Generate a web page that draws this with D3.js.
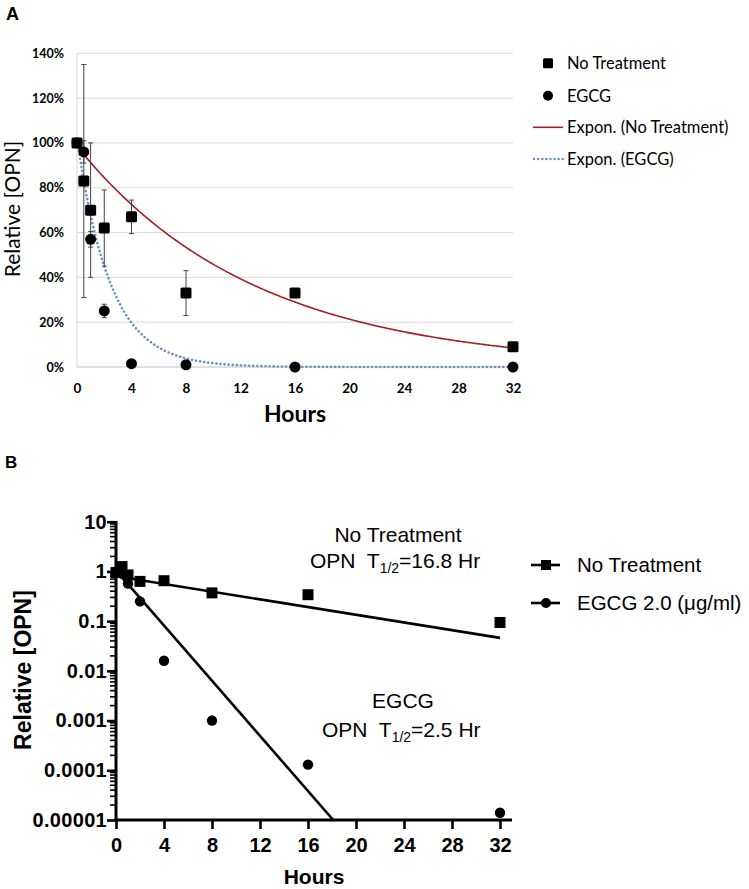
<!DOCTYPE html>
<html>
<head>
<meta charset="utf-8">
<script src="https://cdn.jsdelivr.net/npm/d3@7"></script>
<style>
  html, body { margin: 0; padding: 0; background: #fff; }
  svg { display: block; }
</style>
</head>
<body>
<svg id="chart" width="749" height="889"></svg>
<script>
// ---------- DATA ----------
// Panel A (linear %, Excel style)
const hoursA = [0, 0.5, 1, 2, 4, 8, 16, 32];
const noTreatA = [100, 83, 70, 62, 67, 33, 33, 9];
const noTreatErrA = [0, 52, 30, 17, 7.5, 10, 0, 0];
const egcgA = [100, 96, 57, 25, 1.5, 1, 0, 0];
const egcgErrA = [0, 5, 3.5, 3, 0, 0, 0, 0];
const yTicksA = [0, 20, 40, 60, 80, 100, 120, 140];
const xTicksA = [0, 4, 8, 12, 16, 20, 24, 28, 32];
// Exponential trendline parameters (y = a * exp(-b x))
const expNoTreat = { a: 98.5, b: 0.0765 };
const expEGCG = { a: 102, b: 0.41 };
const legendA = ["No Treatment", "EGCG", "Expon. (No Treatment)", "Expon. (EGCG)"];

// Panel B (log scale, Prism style)
const hoursB = [0, 0.5, 1, 2, 4, 8, 16, 32];
const noTreatB = [0.95, 1.25, 0.85, 0.63, 0.65, 0.37, 0.34, 0.094];
const egcgB = [1.0, 0.9, 0.57, 0.25, 0.016, 0.001, 0.00013, 0.000014];
const yTicksB = [10, 1, 0.1, 0.01, 0.001, 0.0001, 0.00001];
const yTickLabelsB = ["10", "1", "0.1", "0.01", "0.001", "0.0001", "0.00001"];
const xTicksB = [0, 4, 8, 12, 16, 20, 24, 28, 32];
// Fitted regression lines: [x, y] end points
const fitNoTreatB = [[0, 0.8], [32, 0.046]];
const fitEGCGB = [[0, 1.05], [18.1, 0.00001]];
const legendB = ["No Treatment", "EGCG 2.0 (\u03bcg/ml)"];

// ---------- DRAW ----------
const svg = d3.select("#chart");
const fontA = "Lato, 'Open Sans', sans-serif";
const fontB = "'Liberation Sans', Arial, sans-serif";

// ===== Panel A =====
svg.append("text").attr("x", 6).attr("y", 20).text("A")
  .attr("font-family", fontB).attr("font-weight", "bold").attr("font-size", 18);

const xA = d3.scaleLinear().domain([0, 32]).range([77, 513]);
const yA = d3.scaleLinear().domain([0, 140]).range([367, 53.3]);
const gA = svg.append("g");

// gridlines
gA.append("g").selectAll("line").data(yTicksA.filter(d => d > 0)).join("line")
  .attr("x1", xA(0)).attr("x2", xA(32)).attr("y1", d => yA(d)).attr("y2", d => yA(d))
  .attr("stroke", "#d9d9d9").attr("stroke-width", 1);
// axes lines
gA.append("line").attr("x1", xA(0)).attr("x2", xA(0)).attr("y1", yA(0)).attr("y2", yA(140))
  .attr("stroke", "#d9d9d9").attr("stroke-width", 1);
gA.append("line").attr("x1", xA(0)).attr("x2", xA(32)).attr("y1", yA(0)).attr("y2", yA(0))
  .attr("stroke", "#bfbfbf").attr("stroke-width", 1);

// y tick labels
const axYA = d3.axisLeft(yA).tickValues(yTicksA).tickSize(0).tickPadding(0).tickFormat(d => d + "%");
const gyA = gA.append("g").attr("transform", "translate(64,0)").call(axYA);
gyA.select(".domain").remove();
gyA.selectAll("text").attr("font-family", fontA).attr("font-weight", "bold").attr("font-size", 12.5).attr("fill", "#000");

// x tick labels
const axXA = d3.axisBottom(xA).tickValues(xTicksA).tickSize(0).tickPadding(0);
const gxA = gA.append("g").attr("transform", "translate(0,383)").call(axXA);
gxA.select(".domain").remove();
gxA.selectAll("text").attr("font-family", fontA).attr("font-weight", "bold").attr("font-size", 13.5).attr("fill", "#000");

// axis titles
svg.append("text").attr("x", 295).attr("y", 422).attr("text-anchor", "middle")
  .attr("font-family", fontA).attr("font-weight", "bold").attr("font-size", 23).text("Hours");
svg.append("text").attr("transform", "translate(20,209) rotate(-90)").attr("text-anchor", "middle")
  .attr("font-family", fontA).attr("font-size", 21).text("Relative [OPN]");

// trendlines
const curveX = d3.range(0, 32.001, 0.1);
const lineA = d3.line().x(d => xA(d[0])).y(d => yA(d[1]));
gA.append("path").datum(curveX.map(x => [x, expNoTreat.a * Math.exp(-expNoTreat.b * x)]))
  .attr("d", lineA).attr("fill", "none").attr("stroke", "#a31f24").attr("stroke-width", 1.6);
gA.append("path").datum(curveX.map(x => [x, expEGCG.a * Math.exp(-expEGCG.b * x)]))
  .attr("d", lineA).attr("fill", "none").attr("stroke", "#6f8fc9").attr("stroke-width", 2.6)
  .attr("stroke-dasharray", "0.1,4").attr("stroke-linecap", "round");

// error bars
function errBars(vals, errs) {
  const data = hoursA.map((h, i) => ({ h, v: vals[i], e: errs[i] })).filter(d => d.e > 0);
  const g = gA.append("g").attr("stroke", "#444").attr("stroke-width", 1);
  g.selectAll("line.v").data(data).join("line").attr("class", "v")
    .attr("x1", d => xA(d.h)).attr("x2", d => xA(d.h))
    .attr("y1", d => yA(d.v - d.e)).attr("y2", d => yA(d.v + d.e));
  g.selectAll("line.t").data(data).join("line").attr("class", "t")
    .attr("x1", d => xA(d.h) - 2.5).attr("x2", d => xA(d.h) + 2.5)
    .attr("y1", d => yA(d.v + d.e)).attr("y2", d => yA(d.v + d.e));
  g.selectAll("line.b").data(data).join("line").attr("class", "b")
    .attr("x1", d => xA(d.h) - 2.5).attr("x2", d => xA(d.h) + 2.5)
    .attr("y1", d => yA(d.v - d.e)).attr("y2", d => yA(d.v - d.e));
}
errBars(noTreatA, noTreatErrA);
errBars(egcgA, egcgErrA);

// markers
gA.append("g").selectAll("rect").data(hoursA.map((h, i) => [h, noTreatA[i]])).join("rect")
  .attr("x", d => xA(d[0]) - 5.5).attr("y", d => yA(d[1]) - 5.5)
  .attr("width", 11).attr("height", 11).attr("rx", 1.5).attr("fill", "#000");
gA.append("g").selectAll("circle").data(hoursA.map((h, i) => [h, egcgA[i]])).join("circle")
  .attr("cx", d => xA(d[0])).attr("cy", d => yA(d[1])).attr("r", 5.5).attr("fill", "#000");

// legend A
const legA = svg.append("g").attr("font-family", fontA).attr("font-size", 16.5);
legA.append("rect").attr("x", 543).attr("y", 58.3).attr("width", 10).attr("height", 10).attr("rx", 1.5).attr("fill", "#000");
legA.append("circle").attr("cx", 548).attr("cy", 95.7).attr("r", 5).attr("fill", "#000");
legA.append("line").attr("x1", 533).attr("x2", 563).attr("y1", 127.3).attr("y2", 127.3)
  .attr("stroke", "#a31f24").attr("stroke-width", 1.6);
legA.append("line").attr("x1", 534).attr("x2", 563).attr("y1", 159).attr("y2", 159)
  .attr("stroke", "#6f8fc9").attr("stroke-width", 2.4).attr("stroke-dasharray", "0.1,4").attr("stroke-linecap", "round");
const legAY = [69, 101.5, 133, 165];
legA.selectAll("text").data(legendA).join("text")
  .attr("x", 567).attr("y", (d, i) => legAY[i]).text(d => d);

// ===== Panel B =====
svg.append("text").attr("x", 5).attr("y", 468).text("B")
  .attr("font-family", fontB).attr("font-weight", "bold").attr("font-size", 17);

const xB = d3.scaleLinear().domain([0, 32]).range([116, 500]);
const yB = d3.scaleLog().domain([0.00001, 10]).range([820, 521.7]);
const gB = svg.append("g");

// minor ticks
const minorB = [];
for (let e = -5; e < 1; e++) for (let m = 2; m <= 9; m++) minorB.push(m * Math.pow(10, e));
gB.append("g").selectAll("line").data(minorB).join("line")
  .attr("x1", 110).attr("x2", 116).attr("y1", d => yB(d)).attr("y2", d => yB(d))
  .attr("stroke", "#000").attr("stroke-width", 1.6);

const axYB = d3.axisLeft(yB).tickValues(yTicksB).tickSize(9).tickPadding(0)
  .tickFormat((d, i) => yTickLabelsB[i]);
const gyB = gB.append("g").attr("transform", "translate(116,0)").call(axYB);
gyB.select(".domain").remove();
gyB.selectAll(".tick line").attr("stroke-width", 2.6);
gyB.selectAll("text").attr("font-family", fontB).attr("font-weight", "bold").attr("font-size", 20)
  .attr("fill", "#000").attr("letter-spacing", "0.3px");
gB.append("line").attr("x1", 116).attr("x2", 116).attr("y1", 521).attr("y2", 821.5)
  .attr("stroke", "#000").attr("stroke-width", 3);

const axXB = d3.axisBottom(xB).tickValues(xTicksB).tickSize(9).tickPadding(9);
const gxB = gB.append("g").attr("transform", "translate(0,820)").call(axXB);
gxB.select(".domain").remove();
gxB.selectAll(".tick line").attr("stroke-width", 2.6);
gxB.selectAll("text").attr("font-family", fontB).attr("font-weight", "bold").attr("font-size", 20).attr("fill", "#000");
gB.append("line").attr("x1", 114.5).attr("x2", 512).attr("y1", 820).attr("y2", 820)
  .attr("stroke", "#000").attr("stroke-width", 3);

svg.append("text").attr("x", 314).attr("y", 884).attr("text-anchor", "middle")
  .attr("font-family", fontB).attr("font-weight", "bold").attr("font-size", 21).text("Hours");
svg.append("text").attr("transform", "translate(31,670) rotate(-90)").attr("text-anchor", "middle")
  .attr("font-family", fontB).attr("font-weight", "bold").attr("font-size", 23).text("Relative [OPN]");

// fit lines
const lineB = d3.line().x(d => xB(d[0])).y(d => yB(d[1]));
gB.append("path").datum(fitNoTreatB).attr("d", lineB).attr("fill", "none").attr("stroke", "#000").attr("stroke-width", 2.6);
gB.append("path").datum(fitEGCGB).attr("d", lineB).attr("fill", "none").attr("stroke", "#000").attr("stroke-width", 2.6);

// markers
gB.append("g").selectAll("rect").data(hoursB.map((h, i) => [h, noTreatB[i]])).join("rect")
  .attr("x", d => xB(d[0]) - 5.5).attr("y", d => yB(d[1]) - 5.5)
  .attr("width", 11).attr("height", 11).attr("fill", "#000");
gB.append("g").selectAll("circle").data(hoursB.map((h, i) => [h, egcgB[i]])).join("circle")
  .attr("cx", d => xB(d[0])).attr("cy", d => yB(d[1])).attr("r", 5.2).attr("fill", "#000");

// annotations
const ann = svg.append("g").attr("font-family", fontB).attr("font-size", 21).attr("fill", "#000");
ann.append("text").attr("x", 398).attr("y", 542).attr("text-anchor", "middle").text("No Treatment");
function halfLife(x, y, val) {
  const t = ann.append("text").attr("x", x).attr("y", y).attr("xml:space", "preserve");
  t.append("tspan").text("OPN  T");
  t.append("tspan").attr("font-size", 14).attr("dy", 5).text("1/2");
  t.append("tspan").attr("dy", -5).text("=" + val + " Hr");
}
halfLife(310, 568, "16.8");
ann.append("text").attr("x", 403).attr("y", 708).attr("text-anchor", "middle").text("EGCG");
halfLife(322, 737, "2.5");

// legend B
const legB = svg.append("g").attr("font-family", fontB).attr("font-size", 20.5);
legB.append("line").attr("x1", 531).attr("x2", 560).attr("y1", 565).attr("y2", 565).attr("stroke", "#000").attr("stroke-width", 2.6);
legB.append("rect").attr("x", 541).attr("y", 560).attr("width", 10).attr("height", 10).attr("fill", "#000");
legB.append("line").attr("x1", 531).attr("x2", 560).attr("y1", 603).attr("y2", 603).attr("stroke", "#000").attr("stroke-width", 2.6);
legB.append("circle").attr("cx", 546).attr("cy", 603).attr("r", 5).attr("fill", "#000");
legB.selectAll("text").data(legendB).join("text")
  .attr("x", 577).attr("y", (d, i) => [572, 610][i]).text(d => d);
</script>
</body>
</html>
